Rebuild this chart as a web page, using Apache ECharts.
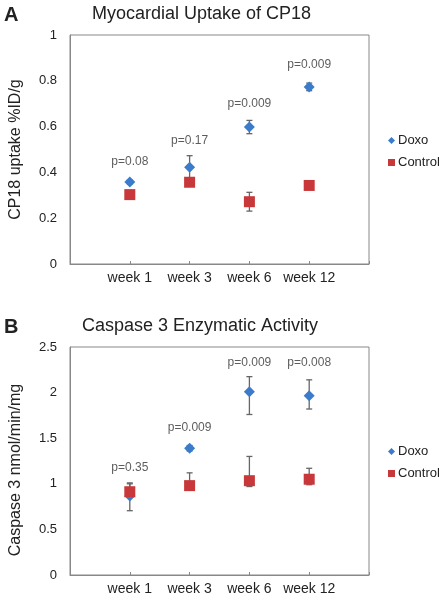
<!DOCTYPE html>
<html><head><meta charset="utf-8">
<script src="https://cdn.jsdelivr.net/npm/echarts@6/dist/echarts.min.js"></script>
<style>html,body{margin:0;padding:0;background:#fff}#c{width:444px;height:600px}</style>
</head><body><div id="c"></div>
<script>
var categories = ['week 1', 'week 3', 'week 6', 'week 12'];

// Panel A: Myocardial uptake of CP18 (%ID/g)
var aDoxo = [0.358, 0.422, 0.598, 0.773];
var aDoxoLow = [0.350, 0.37, 0.569, 0.757];
var aDoxoHigh = [0.366, 0.473, 0.627, 0.790];
var aCtrl = [0.303, 0.357, 0.272, 0.343];
var aCtrlLow = [0.295, 0.350, 0.231, 0.336];
var aCtrlHigh = [0.311, 0.364, 0.313, 0.350];
var aP = ['p=0.08', 'p=0.17', 'p=0.009', 'p=0.009'];
var aPy = [0.447, 0.538, 0.699, 0.869];
var aTicks = [0, 0.2, 0.4, 0.6, 0.8, 1];

// Panel B: Caspase 3 activity (nmol/min/mg)
var bDoxo = [0.866, 1.389, 2.01, 1.966];
var bDoxoLow = [0.705, 1.36, 1.76, 1.82];
var bDoxoHigh = [1.0, 1.42, 2.175, 2.14];
var bCtrl = [0.913, 0.98, 1.034, 1.05];
var bCtrlLow = [0.88, 0.95, 0.97, 0.99];
var bCtrlHigh = [1.01, 1.12, 1.30, 1.17];
var bP = ['p=0.35', 'p=0.009', 'p=0.009', 'p=0.008'];
var bPy = [1.173, 1.61, 2.33, 2.33];
var bTicks = [0, 0.5, 1, 1.5, 2, 2.5];

var BLUE = '#3A7CCB', RED = '#C8383A', FONT = 'Liberation Sans, Arial, sans-serif';

function pts(vals) { return vals.map(function (v, i) { return [i + 1, v]; }); }
function errs(lo, hi) { return lo.map(function (v, i) { return [i + 1, v, hi[i]]; }); }

function errSeries(idx, lo, hi) {
  return {
    type: 'custom', xAxisIndex: idx, yAxisIndex: idx, z: 1, silent: true,
    data: errs(lo, hi),
    renderItem: function (params, api) {
      var top = api.coord([api.value(0), api.value(2)]);
      var bot = api.coord([api.value(0), api.value(1)]);
      var w = 3;
      var st = { stroke: '#666', lineWidth: 1.3 };
      return { type: 'group', children: [
        { type: 'line', shape: { x1: top[0], y1: top[1], x2: bot[0], y2: bot[1] }, style: st },
        { type: 'line', shape: { x1: top[0] - w, y1: top[1], x2: top[0] + w, y2: top[1] }, style: st },
        { type: 'line', shape: { x1: bot[0] - w, y1: bot[1], x2: bot[0] + w, y2: bot[1] }, style: st }
      ]};
    }
  };
}
function pSeries(idx, ys, texts) {
  return {
    type: 'scatter', xAxisIndex: idx, yAxisIndex: idx, symbolSize: 1, silent: true,
    itemStyle: { color: 'rgba(0,0,0,0)' }, data: pts(ys),
    label: { show: true, position: 'inside', fontSize: 12, color: '#333', fontFamily: FONT,
      formatter: function (p) { return texts[p.dataIndex]; } }
  };
}
function markSeries(idx, name, symbol, color, vals) {
  return { name: name, type: 'scatter', xAxisIndex: idx, yAxisIndex: idx, symbol: symbol,
    symbolSize: 11, z: 3, itemStyle: { color: color, opacity: 1 }, data: pts(vals) };
}
function xAxis(idx) {
  return {
    type: 'value', gridIndex: idx, min: 0, max: 5, interval: 1,
    axisLine: { lineStyle: { color: '#888', width: 1 } },
    axisTick: { inside: true, length: 3, lineStyle: { color: '#888' } },
    splitLine: { show: false },
    axisLabel: { fontSize: 14, color: '#222', margin: 7, fontFamily: FONT,
      formatter: function (v) { return categories[v - 1] || ''; } }
  };
}
function yAxis(idx, ticks, name, fmt, namePad) {
  return {
    type: 'value', gridIndex: idx, min: ticks[0], max: ticks[ticks.length - 1],
    interval: ticks[1] - ticks[0],
    name: name, nameLocation: 'middle', nameGap: 46,
    nameTextStyle: { fontSize: 16, color: '#222', fontFamily: FONT, padding: namePad },
    axisLine: { show: true, lineStyle: { color: '#888', width: 1 } },
    axisTick: { show: false }, splitLine: { show: false },
    axisLabel: { fontSize: 13, color: '#222', margin: 13, fontFamily: FONT, formatter: fmt }
  };
}
function legend(top) {
  return {
    orient: 'vertical', left: 388, top: top, itemWidth: 7, itemHeight: 7, itemGap: 9,
    padding: 0,
    textStyle: { fontSize: 13, color: '#222', fontFamily: FONT, padding: [0, 0, 0, -2] },
    data: [{ name: 'Doxo', icon: 'diamond' }, { name: 'Control', icon: 'rect' }]
  };
}
function title(text, left, top, bold) {
  return { text: text, left: left, top: top, padding: 0,
    textStyle: { fontSize: bold ? 20 : 18, fontWeight: bold ? 'bold' : 'normal', color: '#222', fontFamily: FONT } };
}

var chart = echarts.init(document.getElementById('c'), null, { renderer: 'canvas' });
chart.setOption({
  animation: false,
  textStyle: { fontFamily: FONT },
  title: [
    title('A', 4, 5, true),
    title('Myocardial Uptake of CP18', 92, 5, false),
    title('B', 4, 317, true),
    title('Caspase 3 Enzymatic Activity', 82, 317, false)
  ],
  legend: [legend(134), legend(445)],
  grid: [
    { left: 67, top: 35, width: 302, height: 229, show: true, borderColor: '#888', borderWidth: 1 },
    { left: 65, top: 347, width: 304, height: 228, show: true, borderColor: '#888', borderWidth: 1 }
  ],
  xAxis: [xAxis(0), xAxis(1)],
  yAxis: [
    yAxis(0, aTicks, 'CP18 uptake %ID/g', function (v) { return String(Math.round(v * 10) / 10); }, 0),
    yAxis(1, bTicks, 'Caspase 3 nmol/min/mg', function (v) { return String(v); }, [0, 18, 0, 0])
  ],
  series: [
    errSeries(0, aDoxoLow, aDoxoHigh),
    errSeries(0, aCtrlLow, aCtrlHigh),
    markSeries(0, 'Doxo', 'diamond', BLUE, aDoxo),
    markSeries(0, 'Control', 'rect', RED, aCtrl),
    pSeries(0, aPy, aP),
    errSeries(1, bDoxoLow, bDoxoHigh),
    errSeries(1, bCtrlLow, bCtrlHigh),
    markSeries(1, 'Doxo', 'diamond', BLUE, bDoxo),
    markSeries(1, 'Control', 'rect', RED, bCtrl),
    pSeries(1, bPy, bP)
  ]
});
</script></body></html>
